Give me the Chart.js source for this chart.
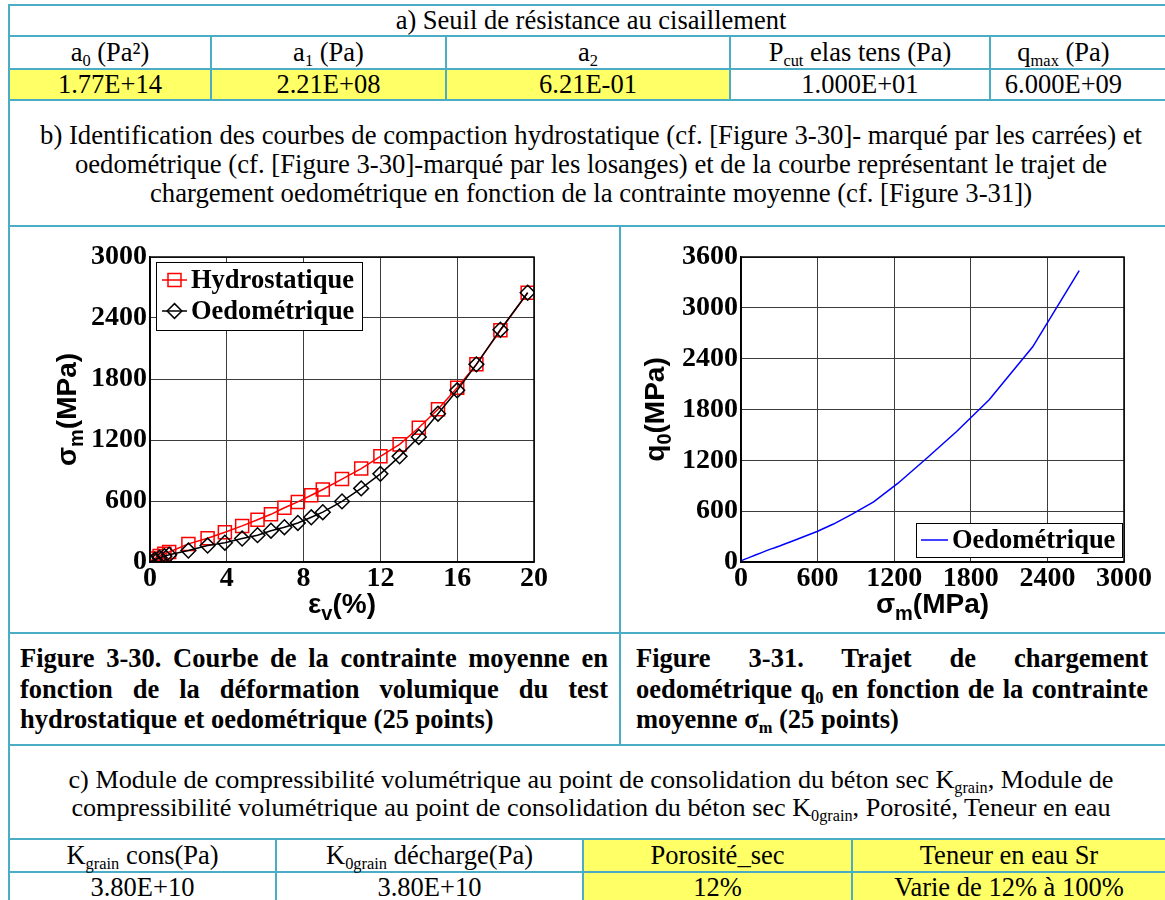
<!DOCTYPE html>
<html><head><meta charset="utf-8">
<script src="https://cdn.jsdelivr.net/npm/chart.js@4.4.1/dist/chart.umd.min.js"></script>
<style>
html,body{margin:0;padding:0;background:#fff;}
body{width:1165px;height:900px;position:relative;overflow:hidden;font-family:"Liberation Serif","Times New Roman",serif;color:#000;}
.h{position:absolute;height:2px;background:#4BACC6;}
.v{position:absolute;width:2px;background:#4BACC6;}
.yl{position:absolute;background:#FFFF66;}
.t{position:absolute;display:flex;align-items:center;justify-content:center;font-size:26.5px;white-space:nowrap;line-height:1;}
.p{position:absolute;text-align:center;font-size:26.7px;white-space:nowrap;}
.cap{position:absolute;font-weight:bold;font-size:26.5px;}
.cap div{height:30.5px;line-height:30.5px;white-space:nowrap;}
.cap .j{text-align:justify;text-align-last:justify;}
sub{font-size:0.62em;vertical-align:-0.3em;line-height:0;}
canvas{position:absolute;}
</style></head>
<body>
<!-- fills -->
<div class="yl" style="left:10px;top:70px;width:719px;height:29px"></div>
<div class="yl" style="left:584px;top:840px;width:581px;height:60px"></div>
<!-- horizontal lines -->
<div class="h" style="left:8px;width:1157px;top:4px"></div>
<div class="h" style="left:8px;width:1157px;top:35px"></div>
<div class="h" style="left:8px;width:1157px;top:68px"></div>
<div class="h" style="left:8px;width:1157px;top:99px"></div>
<div class="h" style="left:8px;width:1157px;top:225px"></div>
<div class="h" style="left:8px;width:1157px;top:632px"></div>
<div class="h" style="left:8px;width:1157px;top:744px"></div>
<div class="h" style="left:8px;width:1157px;top:838px"></div>
<div class="h" style="left:8px;width:1157px;top:871px"></div>
<!-- vertical lines -->
<div class="v" style="left:8px;top:4px;height:896px"></div>
<div class="v" style="left:210px;top:35px;height:66px"></div>
<div class="v" style="left:445px;top:35px;height:66px"></div>
<div class="v" style="left:729px;top:35px;height:66px"></div>
<div class="v" style="left:989px;top:35px;height:66px"></div>
<div class="v" style="left:619px;top:225px;height:521px"></div>
<div class="v" style="left:275px;top:838px;height:62px"></div>
<div class="v" style="left:582px;top:838px;height:62px"></div>
<div class="v" style="left:851px;top:838px;height:62px"></div>

<!-- table a -->
<div class="t" style="left:10px;width:1162px;top:6px;height:29px"><span>a) Seuil de résistance au cisaillement</span></div>
<div class="t" style="left:10px;width:200px;top:37px;height:31px"><span>a<sub>0</sub> (Pa²)</span></div>
<div class="t" style="left:212px;width:233px;top:37px;height:31px"><span>a<sub>1</sub> (Pa)</span></div>
<div class="t" style="left:447px;width:282px;top:37px;height:31px"><span>a<sub>2</sub></span></div>
<div class="t" style="left:731px;width:258px;top:37px;height:31px"><span>P<sub>cut</sub> elas tens (Pa)</span></div>
<div class="t" style="left:991px;width:145px;top:37px;height:31px"><span>q<sub>max</sub> (Pa)</span></div>
<div class="t" style="left:10px;width:200px;top:70px;height:29px"><span>1.77E+14</span></div>
<div class="t" style="left:212px;width:233px;top:70px;height:29px"><span>2.21E+08</span></div>
<div class="t" style="left:447px;width:282px;top:70px;height:29px"><span>6.21E-01</span></div>
<div class="t" style="left:731px;width:258px;top:70px;height:29px"><span>1.000E+01</span></div>
<div class="t" style="left:991px;width:145px;top:70px;height:29px"><span>6.000E+09</span></div>

<!-- b) -->
<div class="p" style="left:10px;width:1162px;top:121px;line-height:29px">b) Identification des courbes de compaction hydrostatique (cf. [Figure 3-30]- marqué par les carrées) et<br>oedométrique (cf. [Figure 3-30]-marqué par les losanges) et de la courbe représentant le trajet de<br>chargement oedométrique en fonction de la contrainte moyenne (cf. [Figure 3-31])</div>

<!-- charts -->
<canvas id="fig30" width="609" height="405" style="left:10px;top:227px;width:609px;height:405px"></canvas>
<canvas id="fig31" width="544" height="405" style="left:621px;top:227px;width:544px;height:405px"></canvas>

<!-- captions -->
<div class="cap" style="left:20px;width:588px;top:643px">
<div class="j">Figure 3-30. Courbe de la contrainte moyenne en</div>
<div class="j">fonction de la déformation volumique du test</div>
<div>hydrostatique et oedométrique (25 points)</div>
</div>
<div class="cap" style="left:636px;width:512px;top:643px">
<div class="j">Figure 3-31. Trajet de chargement</div>
<div class="j">oedométrique q<sub>0</sub> en fonction de la contrainte</div>
<div>moyenne σ<sub>m</sub> (25 points)</div>
</div>

<!-- c) -->
<div class="p" style="left:10px;width:1162px;top:766px;line-height:28px;font-size:26.2px">c) Module de compressibilité volumétrique au point de consolidation du béton sec K<sub>grain</sub>, Module de<br>compressibilité volumétrique au point de consolidation du béton sec K<sub>0grain</sub>, Porosité, Teneur en eau</div>

<!-- table c -->
<div class="t" style="left:10px;width:265px;top:840px;height:31px"><span>K<sub>grain</sub> cons(Pa)</span></div>
<div class="t" style="left:277px;width:305px;top:840px;height:31px"><span>K<sub>0grain</sub> décharge(Pa)</span></div>
<div class="t" style="left:584px;width:267px;top:840px;height:31px"><span>Porosité_sec</span></div>
<div class="t" style="left:853px;width:312px;top:840px;height:31px"><span>Teneur en eau Sr</span></div>
<div class="t" style="left:10px;width:265px;top:873px;height:28px"><span>3.80E+10</span></div>
<div class="t" style="left:277px;width:305px;top:873px;height:28px"><span>3.80E+10</span></div>
<div class="t" style="left:584px;width:267px;top:873px;height:28px"><span>12%</span></div>
<div class="t" style="left:853px;width:312px;top:873px;height:28px"><span>Varie de 12% à 100%</span></div>

<script>
// ---------- data ----------
const strainPct = [0, 0.25, 0.5, 0.75, 1.0, 2.0, 3.0, 3.9, 4.8, 5.6, 6.3, 7.0, 7.7, 8.4, 9.0, 10, 11, 12, 13, 14, 15, 16, 17, 18.25, 19.67];
const hydroMPa  = [8, 35, 60, 80, 98, 178, 234, 292, 355, 415, 469, 534, 591, 657, 713, 816, 919, 1040, 1157, 1321, 1502, 1715, 1944, 2279, 2649];
const oedoMPa   = [0, 22, 42, 58, 72, 113, 162, 190, 231, 264, 308, 342, 384, 440, 490, 596, 724, 867, 1039, 1230, 1459, 1689, 1944, 2285, 2649];
const pathSigmaM = [0, 22, 42, 58, 72, 113, 162, 190, 231, 264, 308, 342, 384, 440, 490, 596, 724, 867, 1039, 1230, 1459, 1689, 1944, 2285, 2649];
const pathQ0     = [15, 28, 40, 49, 58, 82, 111, 128, 152, 168, 192, 212, 236, 268, 298, 360, 448, 563, 710, 930, 1230, 1540, 1915, 2540, 3440];
const fig30XTicks = [0, 4, 8, 12, 16, 20];
const fig30YTicks = [0, 600, 1200, 1800, 2400, 3000];
const fig31XTicks = [0, 600, 1200, 1800, 2400, 3000];
const fig31YTicks = [0, 600, 1200, 1800, 2400, 3000, 3600];
const fig30Labels = ['Hydrostatique', 'Oedométrique'];
const fig31Labels = ['Oedométrique'];

// ---------- helpers ----------
const SERIF = '"Liberation Serif","Times New Roman",serif';
const SANS = '"Liberation Sans",Arial,sans-serif';
const pts = (xs, ys) => xs.map((x, i) => ({x, y: ys[i]}));

function drawSubText(ctx, parts, size, subSize, subShift) {
  let total = 0;
  parts.forEach(p => { ctx.font = 'bold ' + (p.sub ? subSize : size) + 'px ' + SANS; p.w = ctx.measureText(p.t).width; total += p.w; });
  let x = -total / 2;
  ctx.textAlign = 'left'; ctx.textBaseline = 'alphabetic';
  parts.forEach(p => { ctx.font = 'bold ' + (p.sub ? subSize : size) + 'px ' + SANS; ctx.fillText(p.t, x, p.sub ? subShift : 0); x += p.w; });
}
function drawMarker(ctx, style, x, y, r, color, lw) {
  ctx.save(); ctx.strokeStyle = color; ctx.lineWidth = lw; ctx.beginPath();
  if (style === 'rect') { const s = r * Math.SQRT1_2; ctx.rect(x - s, y - s, 2 * s, 2 * s); }
  else if (style === 'rectRot') { ctx.moveTo(x, y - r); ctx.lineTo(x + r, y); ctx.lineTo(x, y + r); ctx.lineTo(x - r, y); ctx.closePath(); }
  ctx.stroke(); ctx.restore();
}

const decor = {
  id: 'decor',
  afterDraw(chart, args, o) {
    const ctx = chart.ctx, a = chart.chartArea;
    ctx.save();
    ctx.strokeStyle = '#000'; ctx.lineWidth = 1.5;
    ctx.strokeRect(a.left, a.top, a.right - a.left, a.bottom - a.top);
    ctx.fillStyle = '#000';
    ctx.save(); ctx.translate(a.left - o.yTitleOff, (a.top + a.bottom) / 2); ctx.rotate(-Math.PI / 2);
    drawSubText(ctx, o.yTitle, 28, 20, 7); ctx.restore();
    ctx.save(); ctx.translate((a.left + a.right) / 2, a.bottom + o.xTitleOff);
    drawSubText(ctx, o.xTitle, 28, 20, 7); ctx.restore();
    const L = o.legend;
    const bx = L.anchorRight ? a.right - L.dx - L.w : a.left + L.dx;
    const by = L.anchorBottom ? a.bottom - L.dy - L.h : a.top + L.dy;
    ctx.fillStyle = '#fff'; ctx.fillRect(bx, by, L.w, L.h);
    ctx.strokeStyle = '#000'; ctx.lineWidth = 1; ctx.strokeRect(bx + 0.5, by + 0.5, L.w, L.h);
    chart.data.datasets.forEach((ds, i) => {
      const cy = by + L.firstY + i * L.rowH;
      ctx.strokeStyle = ds.borderColor; ctx.lineWidth = ds.borderWidth;
      ctx.beginPath(); ctx.moveTo(bx + L.lineX0, cy); ctx.lineTo(bx + L.lineX1, cy); ctx.stroke();
      if (ds.pointRadius > 0) drawMarker(ctx, ds.pointStyle, bx + (L.lineX0 + L.lineX1) / 2, cy, ds.pointRadius, ds.pointBorderColor, ds.pointBorderWidth);
      ctx.fillStyle = '#000'; ctx.font = 'bold 26.5px ' + SERIF; ctx.textAlign = 'left'; ctx.textBaseline = 'middle';
      ctx.fillText(ds.label, bx + L.textX, cy + 1);
    });
    ctx.restore();
  }
};

function axis(min, max, ticks, isY, fitSize) {
  return {
    type: 'linear', min, max,
    afterBuildTicks: s => { s.ticks = ticks.map(v => ({value: v})); },
    afterFit: s => { if (isY) s.width = fitSize; else s.height = fitSize; },
    ticks: { color: '#000', font: {family: SERIF, weight: 'bold', size: 28}, padding: isY ? 3 : 0, maxRotation: 0, autoSkip: false,
      callback: v => String(v) },
    grid: { color: '#3c3c3c', lineWidth: 1, drawTicks: false },
    border: { color: '#000', width: 1.5 }
  };
}

new Chart(document.getElementById('fig30'), {
  type: 'line',
  data: { datasets: [
    { label: fig30Labels[0], data: pts(strainPct, hydroMPa), borderColor: '#ff0000', borderWidth: 1.5,
      pointStyle: 'rect', pointRadius: 9.2, pointBorderColor: '#ff0000', pointBorderWidth: 1.5, pointBackgroundColor: 'rgba(0,0,0,0)', order: 2, tension: 0 },
    { label: fig30Labels[1], data: pts(strainPct, oedoMPa), borderColor: '#000000', borderWidth: 1.5,
      pointStyle: 'rectRot', pointRadius: 7.4, pointBorderColor: '#000000', pointBorderWidth: 1.5, pointBackgroundColor: 'rgba(0,0,0,0)', order: 1, tension: 0 }
  ]},
  options: {
    responsive: false, animation: false, devicePixelRatio: 1,
    layout: { padding: {top: 30, right: 85, bottom: 0, left: 0} },
    scales: { x: axis(0, 20, fig30XTicks, false, 70), y: axis(0, 3000, fig30YTicks, true, 140) },
    plugins: { legend: {display: false}, tooltip: {enabled: false},
      decor: { yTitleOff: 74, xTitleOff: 51,
        yTitle: [{t: 'σ'}, {t: 'm', sub: true}, {t: '(MPa)'}],
        xTitle: [{t: 'ε'}, {t: 'v', sub: true}, {t: '(%)'}],
        legend: { dx: 6, dy: 5, w: 206, h: 68, firstY: 18, rowH: 31, lineX0: 6, lineX1: 31, textX: 35 } } }
  },
  plugins: [decor]
});

new Chart(document.getElementById('fig31'), {
  type: 'line',
  data: { datasets: [
    { label: fig31Labels[0], data: pts(pathSigmaM, pathQ0), borderColor: '#0000ff', borderWidth: 1.5, pointRadius: 0, tension: 0 }
  ]},
  options: {
    responsive: false, animation: false, devicePixelRatio: 1,
    layout: { padding: {top: 30, right: 41, bottom: 0, left: 0} },
    scales: { x: axis(0, 3000, fig31XTicks, false, 70), y: axis(0, 3600, fig31YTicks, true, 120) },
    plugins: { legend: {display: false}, tooltip: {enabled: false},
      decor: { yTitleOff: 77, xTitleOff: 51,
        yTitle: [{t: 'q'}, {t: '0', sub: true}, {t: '(MPa)'}],
        xTitle: [{t: 'σ'}, {t: 'm', sub: true}, {t: '(MPa)'}],
        legend: { anchorRight: true, anchorBottom: true, dx: 2, dy: 5, w: 206, h: 34, firstY: 17, rowH: 31, lineX0: 5, lineX1: 32, textX: 36 } } }
  },
  plugins: [decor]
});
</script>
</body></html>
